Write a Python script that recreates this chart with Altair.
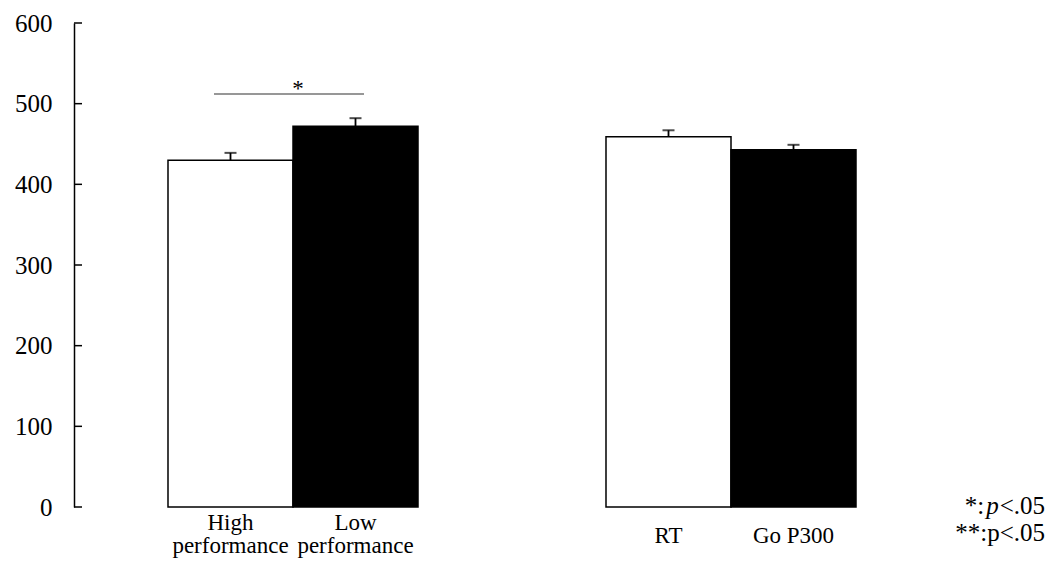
import altair as alt
import pandas as pd

# ---- data ----
groups = ["Performance", "Performance", "Measure", "Measure"]
labels = ["High\nperformance", "Low\nperformance", "RT", "Go P300"]
slots = [0, 1, 0, 1]
means = [430, 472, 459, 443]
sems = [9, 10, 8, 6]
y_ticks = [0, 100, 200, 300, 400, 500, 600]
sig_group = ["Performance"]
sig_level = [512]
sig_mark = ["*"]
note_line2 = ["**:p<.05"]

FONT = "Liberation Serif"
W, H = 876, 484
LBL = 23
NOTE = 25
BAND = 250  # pixel width of each pair of bars

df = pd.DataFrame({"group": groups, "label": labels, "slot": slots,
                   "mean": means, "sem": sems})
df["upper"] = df["mean"] + df["sem"]
df["lines"] = [s.count("\n") + 1 for s in labels]
sig_df = pd.DataFrame({"group": sig_group, "level": sig_level, "mark": sig_mark})
tick_df = pd.DataFrame({"v": y_ticks})

xscale = alt.Scale(domain=["Performance", "Measure"], paddingInner=0.42922, paddingOuter=0.21461)
yscale = alt.Scale(domain=[0, 600], nice=False, zero=True)
X = alt.X("group:N", scale=xscale, axis=None, sort=None)
XO = alt.XOffset("slot:O", scale=alt.Scale(paddingInner=0, paddingOuter=0))

base = alt.Chart(df)
bars = base.mark_bar(stroke="black", strokeWidth=1.5).encode(
    x=X, xOffset=XO,
    y=alt.Y("mean:Q", scale=yscale,
            axis=alt.Axis(values=y_ticks, ticks=False, grid=False, domainColor="black",
                          domainWidth=1.5, labelFont=FONT, labelFontSize=25,
                          labelColor="black", labelPadding=22, title=None)),
    fill=alt.Fill("slot:O", scale=alt.Scale(domain=[0, 1], range=["white", "black"]), legend=None),
)
err = base.mark_rule(color="black", strokeWidth=1.8).encode(
    x=X, xOffset=XO, y=alt.Y("mean:Q", scale=yscale), y2="upper:Q")
caps = base.mark_tick(color="black", size=12, thickness=2).encode(
    x=X, xOffset=XO, y=alt.Y("upper:Q", scale=yscale))

yt = alt.Chart(tick_df).mark_rule(color="black", strokeWidth=1.5).encode(
    y=alt.Y("v:Q", scale=yscale), x=alt.value(0), x2=alt.value(8))

sig = alt.Chart(sig_df).mark_tick(color="#3a3a3a", size=150, thickness=1.4).encode(
    x=alt.X("group:N", scale=xscale, axis=None),
    y=alt.Y("level:Q", scale=yscale),
    xOffset=alt.value(BAND / 2 - 4))
star = alt.Chart(sig_df).mark_text(font=FONT, fontSize=23, dx=5, dy=-5, color="black").encode(
    x=alt.X("group:N", scale=xscale, axis=None), y=alt.Y("level:Q", scale=yscale), text="mark:N")

xl2 = base.transform_filter("datum.lines == 2").mark_text(
    font=FONT, fontSize=LBL, lineBreak="\n", baseline="alphabetic",
    align="center", dy=23, color="black", lineHeight=23).encode(
    x=X, xOffset=XO, y=alt.value(H), text="label:N")
xl1 = base.transform_filter("datum.lines == 1").mark_text(
    font=FONT, fontSize=LBL, baseline="alphabetic",
    align="center", dy=36, color="black").encode(
    x=X, xOffset=XO, y=alt.value(H), text="label:N")

# significance note (bottom right)
RX = 971
Y1, Y2 = 491, 518
w_tail = 1.814 * NOTE + 1
w_p = 0.5 * NOTE + 2
n1a = alt.Chart(pd.DataFrame({"t": ["<.05"]})).mark_text(
    font=FONT, fontSize=NOTE, align="right", baseline="alphabetic", color="black").encode(
    x=alt.value(RX), y=alt.value(Y1), text="t:N")
n1b = alt.Chart(pd.DataFrame({"t": ["p"]})).mark_text(
    font=FONT, fontSize=NOTE, fontStyle="italic", align="right", baseline="alphabetic",
    color="black").encode(
    x=alt.value(RX - w_tail), y=alt.value(Y1), text="t:N")
n1c = alt.Chart(pd.DataFrame({"t": ["*:"]})).mark_text(
    font=FONT, fontSize=NOTE, align="right", baseline="alphabetic", color="black").encode(
    x=alt.value(RX - w_tail - w_p), y=alt.value(Y1), text="t:N")
n2 = alt.Chart(pd.DataFrame({"t": note_line2})).mark_text(
    font=FONT, fontSize=NOTE, align="right", baseline="alphabetic", color="black").encode(
    x=alt.value(RX), y=alt.value(Y2), text="t:N")

chart = alt.layer(bars, err, caps, yt, sig, star, xl2, xl1, n1a, n1b, n1c, n2).properties(
    width=W, height=H, autosize="none",
    padding={"left": 66, "top": 15, "right": 96, "bottom": 55},
    background="white",
).configure_view(stroke=None)

chart.save("out.html", embed_options={"renderer": "svg", "actions": False})
